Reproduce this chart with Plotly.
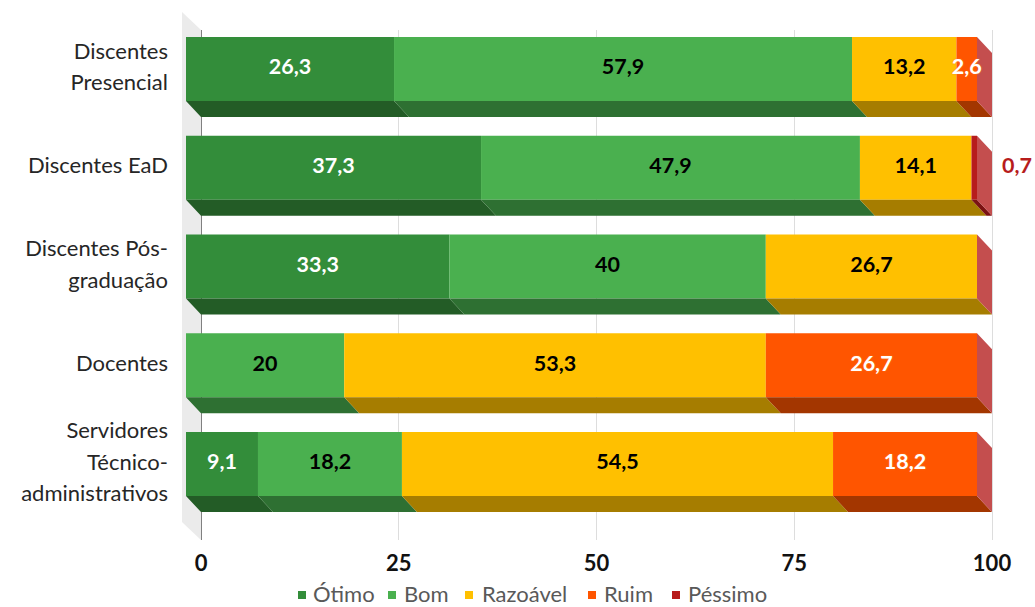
import plotly.graph_objects as go

# ---- data ----
categories = ["Discentes<br>Presencial", "Discentes EaD", "Discentes Pós-<br>graduação",
              "Docentes", "Servidores<br>Técnico-<br>administrativos"]
otimo = [26.3, 37.3, 33.3, 0, 9.1]
bom = [57.9, 47.9, 40, 20, 18.2]
razoavel = [13.2, 14.1, 26.7, 53.3, 54.5]
ruim = [2.6, 0, 0, 26.7, 18.2]
pessimo = [0, 0.7, 0, 0, 0]
series_names = ["Ótimo", "Bom", "Razoável", "Ruim", "Péssimo"]
series_values = [otimo, bom, razoavel, ruim, pessimo]
front_colors = ["#338D3A", "#4AB04F", "#FFC000", "#FF5500", "#B71C1C"]
under_colors = ["#235C26", "#2E7032", "#A67D00", "#A33600", "#7A1212"]
label_colors = ["white", "black", "black", "white", "#B71C1C"]
side_color = "#C44E4E"
x_ticks = [0, 25, 50, 75, 100]

# ---- pixel frame of the plot ----
W, H = 1035, 607
L, R, T, B = 169, 1032, 30, 540
X0, UX = 201, 7.91      # pixel of 0, pixels per unit
Y0, UY = 69, 98.75      # pixel of the first row centre, pixels per row
DX, DY = 15 / UX, 16 / UY   # depth of the bars
BAR = 64 / UY
FS = 22


def px(v):
    return (v - L) / (R - L)


def py(v):
    return (B - v) / (B - T)


def fmt(v):
    return f"{v:g}".replace(".", ",")


fig = go.Figure()

rows = range(len(categories))
cums = [[sum(s[r] for s in series_values[:k]) for r in rows] for k in range(len(series_values))]

# front faces
for k, name in enumerate(series_names):
    fig.add_trace(go.Bar(
        name=name, orientation="h", y=list(rows), x=series_values[k],
        base=[c - DX for c in cums[k]], width=BAR,
        marker=dict(color=front_colors[k], line_width=0),
        showlegend=False, hovertemplate="%{y}: %{x}<extra>" + name + "</extra>",
    ))

# under faces
for k, name in enumerate(series_names):
    xs, ys = [], []
    for r in rows:
        v = series_values[k][r]
        if not v:
            continue
        a, b = cums[k][r] - DX, cums[k][r] + v - DX
        yb = r + BAR / 2
        xs += [a, b, b + DX, a + DX, a, None]
        ys += [yb, yb, yb + DY, yb + DY, yb, None]
    fig.add_trace(go.Scatter(x=xs, y=ys, mode="lines", fill="toself", fillcolor=under_colors[k],
                             line=dict(width=0), hoverinfo="skip", showlegend=False, cliponaxis=False))

# right end faces
xs, ys = [], []
for r in rows:
    e = sum(s[r] for s in series_values)
    t, b = r - BAR / 2, r + BAR / 2
    xs += [e - DX, e, e, e - DX, e - DX, None]
    ys += [t, t + DY, b + DY, b, t, None]
fig.add_trace(go.Scatter(x=xs, y=ys, mode="lines", fill="toself", fillcolor=side_color,
                         line=dict(width=0), hoverinfo="skip", showlegend=False, cliponaxis=False))

# value labels
for k, name in enumerate(series_names):
    xs, ys, txt = [], [], []
    for r in rows:
        v = series_values[k][r]
        if not v:
            continue
        c = cums[k][r] + v / 2 - DX
        if k == 4:
            c += 5.4
        xs.append(c)
        ys.append(r)
        txt.append(fmt(v))
    fig.add_trace(go.Scatter(
        x=xs, y=ys, text=txt, mode="text", textposition="middle center",
        textfont=dict(family="Lato", size=FS - 0.5, color=label_colors[k], weight="bold",
                      shadow="0 0 2px #FF7A1A" if k == 3 else "none"),
        hoverinfo="skip", showlegend=False, cliponaxis=False))

# side wall
wall_pts = [(182, 12), (201, 30), (201, 540), (182, 522)]
shapes = [dict(type="path", xref="paper", yref="paper", layer="below", line_width=0, fillcolor="#EBEBEB",
               path="M" + " L".join(f"{px(a):.5f},{py(b):.5f}" for a, b in wall_pts) + " Z")]

# legend
legend_sq = [298, 388, 465, 588, 672]
legend_tx = [312, 403, 481, 603, 687]
LEG_Y = 595
annotations = []
for k, name in enumerate(series_names):
    shapes.append(dict(type="rect", xref="paper", yref="paper", line_width=0, fillcolor=front_colors[k],
                       x0=px(legend_sq[k]), x1=px(legend_sq[k] + 8),
                       y0=py(LEG_Y + 4), y1=py(LEG_Y - 4)))
    annotations.append(dict(text=name, xref="paper", yref="paper", x=px(legend_tx[k]), y=py(LEG_Y - 2),
                            xanchor="left", yanchor="middle", showarrow=False, borderpad=0,
                            font=dict(family="Lato", size=22, color="#595959")))

fig.update_layout(
    width=W, height=H, autosize=False, barmode="overlay", showlegend=False,
    margin=dict(l=L, r=W - R, t=T, b=H - B, pad=0),
    paper_bgcolor="white", plot_bgcolor="white",
    shapes=shapes, annotations=annotations,
    xaxis=dict(range=[(L - X0) / UX, (R - X0) / UX], tickvals=x_ticks, ticklen=0,
               showgrid=True, gridcolor="#DDDDDD", gridwidth=1,
               zeroline=True, zerolinecolor="#808080", zerolinewidth=1, showline=False,
               tickfont=dict(family="Lato", size=22, color="#111111", weight="bold"),
               ticklabelstandoff=8),
    yaxis=dict(range=[(B - Y0) / UY, (T - Y0) / UY], tickvals=list(rows),
               ticktext=[f'<span style="font-size:{FS}px">' + c.replace("<br>", f'</span><br><span style="font-size:{FS}px">') + "</span>"
                         for c in categories],
               ticklen=0, showgrid=False, zeroline=False, showline=False, ticklabelshift=3,
               tickfont=dict(family="Lato", size=24.5, color="#262626")),
)

fig.write_html("out.html", config=dict(displayModeBar=False),
               post_script="document.body.style.margin='0';document.body.style.overflow='hidden';")
